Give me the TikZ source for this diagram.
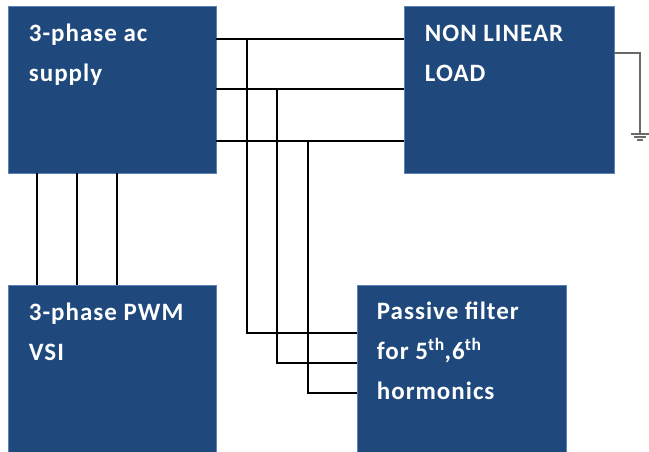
\documentclass[tikz,border=0pt]{standalone}
\usepackage{fontspec}
\setmainfont{Carlito}[LetterSpace=4]
\usetikzlibrary{positioning,calc}
\definecolor{blockBlue}{RGB}{31,73,125}
\definecolor{blockEdge}{RGB}{90,130,185}
\definecolor{earthGrey}{RGB}{105,105,105}

\begin{document}
\begin{tikzpicture}[x=1pt, y=-1pt,
  block/.style={fill=blockBlue, draw=blockEdge, line width=0.6pt, minimum width=208pt, minimum height=167pt, inner sep=0pt},
  blocktxt/.style={text=white, font=\fontsize{25}{40}\selectfont\bfseries, align=left, anchor=north west, inner sep=0pt},
  wire/.style={line width=1.3pt, black}]
  \useasboundingbox (0,0) rectangle (649,452);
  % blocks  (y axis points down, as in the image)
  \node[block] (supply) at (112,89.5){};
  \node[block, minimum width=210pt] (load) at (509,89.5){};
  \node[block] (pwm) at (112,368.5){};
  \node[block, minimum width=209pt] (filter) at (461.5,368.5){};
  % block texts, first baseline 36 below the top edge
  \node[blocktxt] (supplytxt) at ($(supply.north west)+(21,17)$){\rule{0pt}{19pt}3-phase ac\\supply};
  \node[blocktxt] (loadtxt) at ($(load.north west)+(21,17)$){\rule{0pt}{19pt}NON LINEAR\\LOAD};
  \node[blocktxt] (pwmtxt) at ($(pwm.north west)+(21,17)$){\rule{0pt}{19pt}3-phase PWM\\VSI};
  \node[blocktxt] (filtertxt) at ($(filter.north west)+(20,16)$){\rule{0pt}{19pt}Passive filter\\for 5\textsuperscript{th},6\textsuperscript{th}\\hormonics};
  % three phases supply -> load, taps down to the filter
  \coordinate (tapA) at (247,39);
  \coordinate (tapB) at (277,89);
  \coordinate (tapC) at (308,141);
  \draw[wire] (supply.east |- tapA) -- (load.west |- tapA);
  \draw[wire] (supply.east |- tapB) -- (load.west |- tapB);
  \draw[wire] (supply.east |- tapC) -- (load.west |- tapC);
  \draw[wire] (tapA) |- (filter.west |- 0,333);
  \draw[wire] (tapB) |- (filter.west |- 0,363);
  \draw[wire] (tapC) |- (filter.west |- 0,393);
  % supply -> inverter
  \foreach \px in {37,77,117}
    \draw[wire] (supply.south -| \px,0) -- (pwm.north -| \px,0);
  % earth of the load
  \coordinate (earth) at (640,134);
  \draw[earthGrey, line width=1.3pt] (load.east |- 0,53) -| (earth);
  \draw[earthGrey, line width=1.2pt] ($(earth)+(-9,0)$) -- ($(earth)+(9,0)$);
  \draw[earthGrey, line width=1.2pt] ($(earth)+(-6,3)$) -- ($(earth)+(6,3)$);
  \draw[earthGrey, line width=1.2pt] ($(earth)+(-3,6)$) -- ($(earth)+(3,6)$);
\end{tikzpicture}
\end{document}
